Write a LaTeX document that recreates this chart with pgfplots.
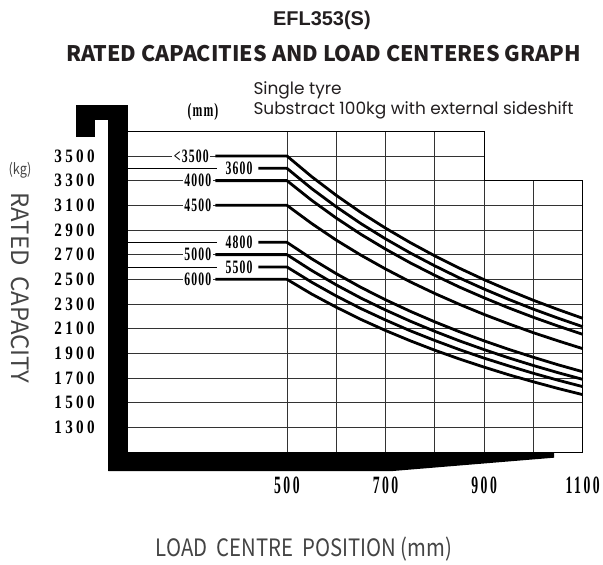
\documentclass[border=0pt]{standalone}
\usepackage{fontspec}
\usepackage{pgfplots}
\pgfplotsset{compat=1.18}
\setmainfont{Liberation Serif}
\newfontfamily\sansA{Liberation Sans}
\newfontfamily\cjk{Noto Sans CJK SC}
\newfontfamily\cjkn{Noto Sans CJK SC}[FakeStretch=0.85]
\newfontfamily\pop{Poppins}
\newfontfamily\ydig{Liberation Serif}[FakeStretch=0.8,LetterSpace=18]
\newfontfamily\xdig{Liberation Serif}[FakeStretch=0.55,LetterSpace=10]
\newfontfamily\cdig{Liberation Serif}[FakeStretch=0.62,LetterSpace=6]
\definecolor{titlec}{HTML}{231F20}
\definecolor{labc}{HTML}{444444}
\begin{document}
\begin{tikzpicture}
\useasboundingbox (-127.7bp,-113bp) rectangle (475.3bp,452bp);
% titles
\node[anchor=base west, inner sep=0, text=titlec] at (145.3bp,426bp) {\sansA\bfseries\fontsize{20}{20}\selectfont EFL353(S)};
\node[anchor=base west, inner sep=0, text=titlec] at (-61.7bp,390.3bp) {\cjk\bfseries\fontsize{21.5}{21.5}\selectfont RATED CAPACITIES AND LOAD CENTERES GRAPH};
\node[anchor=base west, inner sep=0, text=titlec] at (125.6bp,357bp) {\pop\fontsize{17}{17}\selectfont Single tyre};
\node[anchor=base west, inner sep=0, text=titlec] at (125.6bp,337bp) {\pop\fontsize{17}{17}\selectfont Substract 100kg with external sideshift};
\node[inner sep=0] at (75.3bp,340.5bp) {\cdig\bfseries\fontsize{19}{19}\selectfont (mm)};
\node[inner sep=0, text=labc] at (-107.7bp,282bp) {\cjkn\fontsize{15}{15}\selectfont (kg)};
\node[inner sep=0, rotate=-90, text=labc] at (-107.7bp,164bp) {\cjk\fontsize{24}{24}\selectfont RATED\ \ CAPACITY};
\node[anchor=base west, inner sep=0, text=labc] at (28bp,-104.7bp) {\cjkn\fontsize{24}{24}\selectfont LOAD\ \ CENTRE\ \ POSITION (mm)};
\begin{axis}[
  at={(0bp,0bp)}, anchor=south west,
  scale only axis, width=455bp, height=320.7bp,
  xmin=177, xmax=1100, ymin=1100, ymax=3700,
  axis line style={draw=none}, clip=false,
  xtick={500,600,700,800,900,1000,1100},
  xticklabels={500,,700,,900,,1100},
  ytick={1300,1500,1700,1900,2100,2300,2500,2700,2900,3100,3300,3500},
  yticklabels={1300,1500,1700,1900,2100,2300,2500,2700,2900,3100,3300,3500},
  major tick length=0pt,
  grid=major,
  major grid style={black!80, line width=0.8bp},
  xticklabel style={font={\xdig\bfseries\fontsize{25}{25}\selectfont}, inner sep=0pt, anchor=north, yshift=-25bp},
  yticklabel style={font={\ydig\bfseries\fontsize{19}{19}\selectfont}, inner sep=0pt, anchor=east, xshift=-32.7bp},
]
\fill[white] (axis cs:902,3304) rectangle (axis cs:1112,3720);
\addplot[black, line width=0.8bp] coordinates {(1040,1100)(1100,1100)(1100,3300)(900,3300)(900,3700)(177,3700)};
% leader lines
\addplot[black, line width=0.8bp] coordinates {(177,3400)(358,3400)};
\addplot[black, line width=0.8bp] coordinates {(177,2800)(358,2800)};
\addplot[black, line width=0.8bp] coordinates {(177,2600)(358,2600)};
% capacity curves
\addplot[black, line width=2.8bp, line join=round] coordinates {(355,3500)(500,3500)(550,3333)(600,3181)(650,3042)(700,2915)(750,2798)(800,2690)(850,2590)(900,2497)(950,2411)(1000,2330)(1050,2255)(1100,2184)};
\addplot[black, line width=2.8bp, line join=round] coordinates {(442,3400)(500,3400)(550,3236)(600,3088)(650,2952)(700,2828)(750,2714)(800,2609)(850,2511)(900,2421)(950,2337)(1000,2258)(1050,2185)(1100,2116)};
\addplot[black, line width=2.8bp, line join=round] coordinates {(355,3300)(500,3300)(550,3141)(600,2997)(650,2865)(700,2745)(750,2634)(800,2532)(850,2437)(900,2350)(950,2268)(1000,2192)(1050,2121)(1100,2054)};
\addplot[black, line width=2.8bp, line join=round] coordinates {(355,3100)(500,3100)(550,2953)(600,2818)(650,2696)(700,2584)(750,2480)(800,2385)(850,2297)(900,2215)(950,2139)(1000,2067)(1050,2001)(1100,1938)};
\addplot[black, line width=2.8bp, line join=round] coordinates {(442,2800)(500,2800)(550,2667)(600,2546)(650,2435)(700,2334)(750,2241)(800,2155)(850,2075)(900,2001)(950,1932)(1000,1868)(1050,1807)(1100,1751)};
\addplot[black, line width=2.8bp, line join=round] coordinates {(355,2700)(500,2700)(550,2572)(600,2455)(650,2348)(700,2251)(750,2161)(800,2078)(850,2001)(900,1930)(950,1863)(1000,1801)(1050,1743)(1100,1689)};
\addplot[black, line width=2.8bp, line join=round] coordinates {(442,2600)(500,2600)(550,2477)(600,2365)(650,2263)(700,2170)(750,2083)(800,2004)(850,1930)(900,1861)(950,1798)(1000,1738)(1050,1682)(1100,1630)};
\addplot[black, line width=2.8bp, line join=round] coordinates {(355,2500)(500,2500)(550,2381)(600,2274)(650,2175)(700,2085)(750,2002)(800,1925)(850,1854)(900,1788)(950,1726)(1000,1669)(1050,1615)(1100,1565)};
% curve labels
\begin{scope}[every node/.style={fill=white, inner xsep=1.5bp, inner ysep=0.5bp, font={\cdig\bfseries\fontsize{19}{19}\selectfont}}]
\node at (axis cs:306,3500) {<3500};
\node at (axis cs:403,3400) {3600};
\node at (axis cs:319,3300) {4000};
\node at (axis cs:319,3100) {4500};
\node at (axis cs:403,2800) {4800};
\node at (axis cs:319,2700) {5000};
\node at (axis cs:403,2600) {5500};
\node at (axis cs:319,2500) {6000};
\end{scope}
\end{axis}
% mast and forks
\fill[black] (-19.4bp,-19bp) rectangle (0bp,347bp);
\fill[black] (-51.7bp,332bp) rectangle (0bp,347bp);
\fill[black] (-51.7bp,315bp) rectangle (-32.7bp,332bp);
\fill[black] (-19.4bp,0bp) -- (426.3bp,0bp) -- (426.3bp,-5.7bp) -- (265.3bp,-19bp) -- (-19.4bp,-19bp) -- cycle;
\end{tikzpicture}
\end{document}
